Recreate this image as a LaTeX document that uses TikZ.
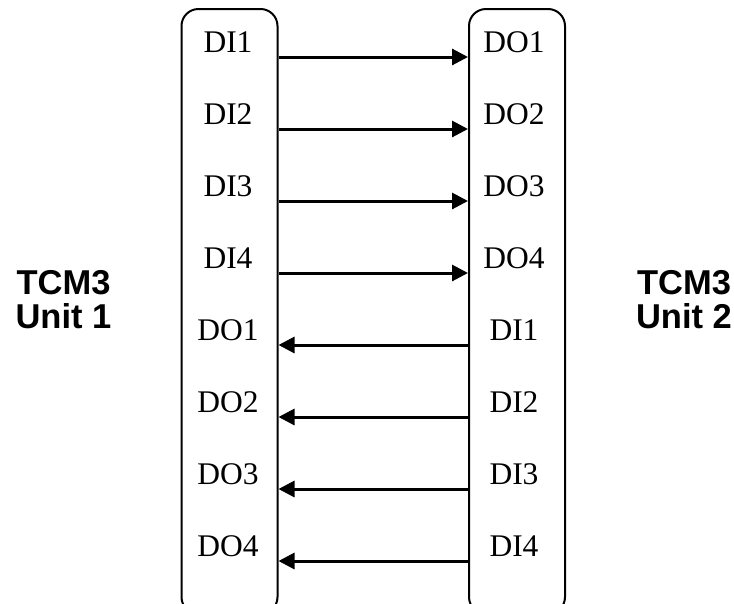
\documentclass[tikz,border=0pt]{standalone}
\usepackage{fontspec}
\setmainfont{Liberation Serif}
\newfontfamily\unitfont{Liberation Sans}
\usepackage{tikz}
\usetikzlibrary{arrows.meta, positioning}
\newcommand\Lin{DI1}
\newcommand\Rin{DO1}

\begin{document}
\begin{tikzpicture}[x=1pt, y=-1pt,
    unit box/.style = {draw, line width=2pt, rounded corners=17pt, minimum width=96pt, minimum height=605pt, inner sep=0pt},
    pin label/.style = {inner sep=0pt, font=\fontsize{31.5}{37}\selectfont},
    unit name/.style = {inner sep=0pt, align=center, font=\unitfont\bfseries\fontsize{34.5}{34}\selectfont},
    sig/.style = {line width=3pt, -{Triangle[length=16pt, width=16pt]}}]
                \useasboundingbox (0,0) rectangle (734,603);
                \clip (0,0) rectangle (734,603);
                \node [unit box] (u1) at (229.5,311.5) {};
                \node [unit box] (u2) at (517,311.5) {};
                \node [unit name] (n1) at (63.5,299.5) {TCM3\\Unit 1};
                \node [unit name] (n2) at (684,299.5) {TCM3\\Unit 2};
                \foreach \i/\k in {1/1,2/2,3/3,4/4,5/1,6/2,7/3,8/4}{
                  \coordinate (row\i) at (0,{57+72*(\i-1)});
                  \ifnum\i<5
                      \renewcommand\Lin{DI\k}\renewcommand\Rin{DO\k}
                  \else
                      \renewcommand\Lin{DO\k}\renewcommand\Rin{DI\k}
                  \fi
                  \node [pin label] at (228,{42.5+72*(\i-1)}) (l\i) {\Lin};
                  \node [pin label] at (514,{42.5+72*(\i-1)}) (r\i) {\Rin};
                  \ifnum\i<5
                      \draw [sig] (u1.east |- row\i) -- (u2.west |- row\i);
                  \else
                      \draw [sig] (u2.west |- row\i) -- (u1.east |- row\i);
                  \fi
                }
            \end{tikzpicture}
\end{document}
